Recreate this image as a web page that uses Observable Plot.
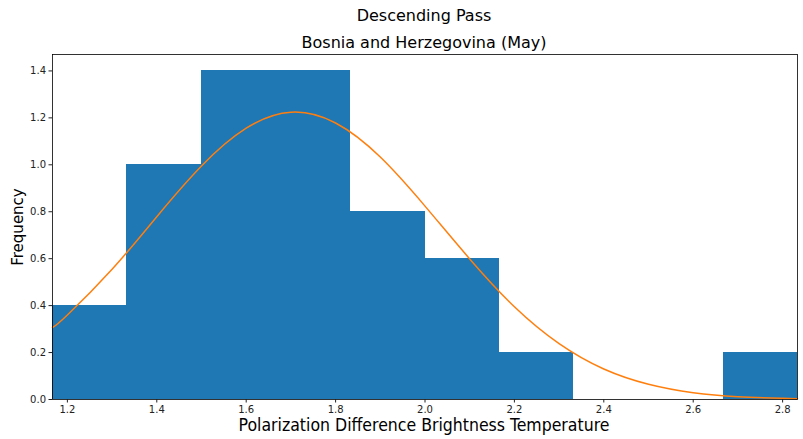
<!DOCTYPE html>
<html>
<head>
<meta charset="utf-8">
<script src="https://cdn.jsdelivr.net/npm/d3@7"></script>
<script src="https://cdn.jsdelivr.net/npm/@observablehq/plot@0.6"></script>
<style>
  html, body { margin: 0; padding: 0; background: #fff; }
  #wrap { position: relative; width: 803px; height: 439px; font-family: "DejaVu Sans", sans-serif; color: #000; }
  .lbl { position: absolute; white-space: nowrap; }
</style>
</head>
<body>
<div id="wrap"></div>
<script>
// Histogram (density) bins
const binEdges = [1.1667, 1.3333, 1.5, 1.6667, 1.8333, 2.0, 2.1667, 2.3333, 2.5, 2.6667, 2.8333];
const density  = [0.4, 1.0, 1.4, 1.4, 0.8, 0.6, 0.2, 0, 0, 0.2];

// Fitted curve, values
const curveX = [1.1667, 1.2, 1.3, 1.4, 1.5, 1.6, 1.7, 1.8, 1.9, 2.0, 2.1, 2.2, 2.3, 2.4, 2.5, 2.6, 2.7, 2.8, 2.8333];
const curveY = [0.306, 0.360, 0.555, 0.779, 0.995, 1.156, 1.224, 1.178, 1.033, 0.824, 0.599, 0.395, 0.238, 0.130, 0.065, 0.029, 0.012, 0.005, 0.003];

const xTicks = [1.2, 1.4, 1.6, 1.8, 2.0, 2.2, 2.4, 2.6, 2.8];
const yTicks = [0.0, 0.2, 0.4, 0.6, 0.8, 1.0, 1.2, 1.4];

const title = "Descending Pass";
const subtitle = "Bosnia and Herzegovina (May)";
const xLabel = "Polarization Difference Brightness Temperature";
const yLabel = "Frequency";

const bars = density.map((d, i) => ({x1: binEdges[i], x2: binEdges[i + 1], y: d})).filter(d => d.y > 0);
const curve = curveX.map((x, i) => ({x, y: curveY[i]}));

const chart = Plot.plot({
  width: 803,
  height: 439,
  marginLeft: 52,
  marginRight: 6,
  marginTop: 54,
  marginBottom: 40,
  style: {fontFamily: "DejaVu Sans, sans-serif", fontSize: "10px", color: "#222", background: "#fff"},
  x: {domain: [binEdges[0], binEdges[binEdges.length - 1]]},
  y: {domain: [0, 1.47]},
  marks: [
    Plot.rect(bars, {x1: "x1", x2: "x2", y1: 0, y2: "y", fill: "#1f77b4", shapeRendering: "crispEdges"}),
    Plot.line(curve, {x: "x", y: "y", stroke: "#ff7f0e", strokeWidth: 1.5, curve: "natural"}),
    Plot.frame({stroke: "#000", strokeWidth: 0.8}),
    Plot.axisX({ticks: xTicks, tickFormat: d3.format(".1f"), tickSize: 3.5, tickPadding: 3, label: null, fontSize: 10}),
    Plot.axisY({ticks: yTicks, tickFormat: d3.format(".1f"), tickSize: 3.5, tickPadding: 3, label: null, fontSize: 10})
  ]
});

const wrap = document.getElementById("wrap");
wrap.appendChild(chart);

function addLabel(text, style) {
  const el = document.createElement("div");
  el.className = "lbl";
  el.textContent = text;
  Object.assign(el.style, style);
  wrap.appendChild(el);
  return el;
}
addLabel(title, {left: "424px", top: "6px", transform: "translateX(-50%)", fontSize: "16px"});
addLabel(subtitle, {left: "424px", top: "33px", transform: "translateX(-50%)", fontSize: "16px"});
addLabel(xLabel, {left: "424px", top: "415px", transform: "translateX(-50%)", fontSize: "17.5px", fontStretch: "condensed"});
addLabel(yLabel, {left: "18px", top: "227px", transform: "translate(-50%, -50%) rotate(-90deg)", fontSize: "15px"});
</script>
</body>
</html>
